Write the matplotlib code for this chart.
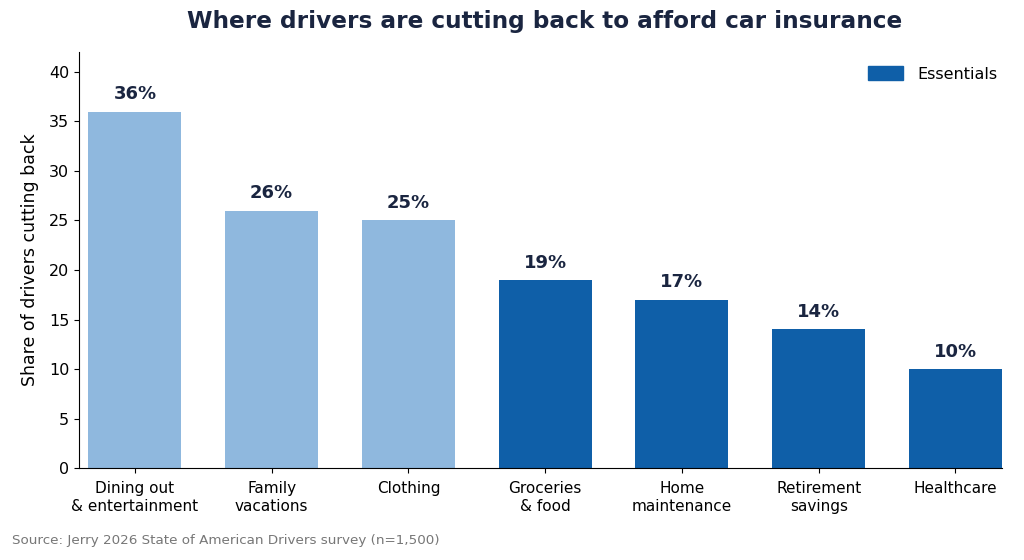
import matplotlib
matplotlib.use("Agg")
import matplotlib.pyplot as plt
from matplotlib.patches import Patch

categories = ["Dining out\n& entertainment", "Family\nvacations", "Clothing",
              "Groceries\n& food", "Home\nmaintenance", "Retirement\nsavings", "Healthcare"]
values = [36, 26, 25, 19, 17, 14, 10]
essential = [False, False, False, True, True, True, True]

light = "#8fb8de"
dark = "#0f5fa8"
navy = "#1a2540"

fig = plt.figure(figsize=(10.24, 5.6), dpi=100)
ax = fig.add_axes([0.077, 0.164, 0.9015, 0.743])
x = list(range(len(categories)))
colors = [dark if e else light for e in essential]
bars = ax.bar(x, values, width=0.68, color=colors)
for xi, v in zip(x, values):
    ax.text(xi, v + 0.85, f"{v}%", ha="center", va="bottom", fontsize=13,
            fontweight="bold", color=navy)
ax.set_xticks(x)
ax.set_xticklabels(categories, fontsize=11, linespacing=1.25)
ax.tick_params(axis="x", pad=6)
ax.set_xlim(-0.41, 6.34)
ax.set_ylim(0, 42)
ax.set_yticks(range(0, 41, 5))
ax.tick_params(axis="y", labelsize=11.5)
ax.set_ylabel("Share of drivers cutting back", fontsize=12.5, labelpad=7)
ax.spines["top"].set_visible(False)
ax.spines["right"].set_visible(False)
ax.legend(handles=[Patch(color=dark, label="Essentials")], loc="upper right",
          bbox_to_anchor=(1.011, 1.0), frameon=False, fontsize=11.5,
          handlelength=2.2, handleheight=0.9, handletextpad=0.9)
title = ax.set_title("Where drivers are cutting back to afford car insurance", fontsize=16.7,
                     fontweight="bold", color=navy, pad=17)
title.set_x(0.505)
fig.text(0.012, 0.028, "Source: Jerry 2026 State of American Drivers survey (n=1,500)",
         fontsize=9.7, color="#777777")
fig.savefig("out.png", dpi=100)
